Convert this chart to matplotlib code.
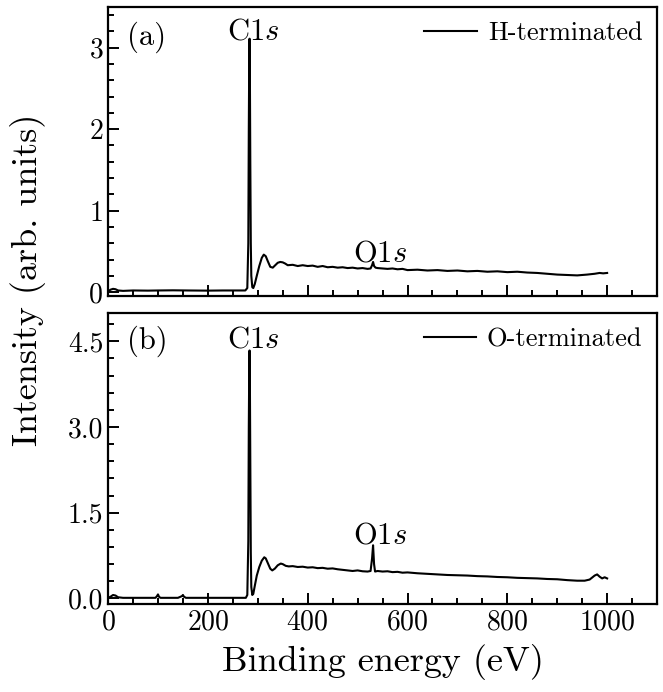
import numpy as np
import matplotlib
matplotlib.use("Agg")
import matplotlib.pyplot as plt
from matplotlib.ticker import MultipleLocator

plt.rcParams['font.family'] = 'serif'
plt.rcParams['font.serif'] = ['cmr10']
plt.rcParams['mathtext.fontset'] = 'cm'
plt.rcParams['axes.formatter.use_mathtext'] = True

# H-terminated survey spectrum
energy_h = [0, 5, 10, 15, 20, 30, 50, 80, 100, 130, 160, 200, 230, 260, 275,
            279, 281, 282, 283, 283.5, 284, 285, 286, 287, 289, 291, 294, 298,
            303, 308, 312, 316, 320, 325, 330, 335, 340, 345, 350, 355, 360,
            370, 380, 390, 400, 410, 420, 430, 440, 450, 460, 470, 480, 490,
            500, 510, 520, 526, 529, 531, 533, 536, 540, 550, 560, 570, 580,
            590, 600, 620, 640, 660, 680, 700, 720, 740, 760, 780, 800, 820,
            840, 860, 880, 900, 920, 940, 960, 975, 985, 992, 1000]
intens_h = [0.01, 0.03, 0.04, 0.035, 0.02, 0.015, 0.02, 0.018, 0.02, 0.022,
            0.02, 0.018, 0.02, 0.02, 0.02,
            0.05, 0.6, 2.0, 3.0, 3.11, 2.9, 1.6, 0.6, 0.2, 0.06, 0.05, 0.1, 0.2,
            0.32, 0.42, 0.46, 0.44, 0.38, 0.31, 0.30, 0.33, 0.36, 0.37, 0.365,
            0.35, 0.33,
            0.335, 0.32, 0.33, 0.32, 0.325, 0.31, 0.32, 0.305, 0.31, 0.30,
            0.305, 0.295, 0.30,
            0.29, 0.295, 0.285, 0.29, 0.33, 0.37, 0.32, 0.30, 0.295, 0.29,
            0.285, 0.29, 0.28,
            0.285, 0.27, 0.275, 0.265, 0.27, 0.26, 0.265, 0.255, 0.26, 0.25,
            0.255, 0.245, 0.25,
            0.24, 0.235, 0.225, 0.215, 0.21, 0.205, 0.215, 0.225, 0.235, 0.23,
            0.235]

# O-terminated survey spectrum
energy_o = [0, 5, 10, 15, 20, 30, 50, 80, 95, 98, 100, 102, 105, 140, 148, 150,
            152, 156, 200, 250, 276, 279, 281, 282, 283, 283.5, 284, 285, 286,
            287, 289, 291, 294, 298, 303, 308, 313, 316, 320, 325, 329, 334,
            340, 346, 350, 356, 362, 370, 380, 390, 400, 410, 420, 430, 440,
            450, 460, 470, 480, 490, 500, 510, 520, 526, 529, 531, 533, 535,
            540, 550, 560, 570, 580, 590, 600, 620, 640, 660, 680, 700, 720,
            740, 760, 780, 800, 820, 840, 860, 880, 900, 920, 940, 955, 965,
            975, 980, 985, 990, 995, 1000]
intens_o = [0.01, 0.03, 0.06, 0.05, 0.02, 0.01, 0.01, 0.01, 0.01, 0.04, 0.07,
            0.03, 0.01, 0.01, 0.04, 0.06,
            0.03, 0.01, 0.01, 0.01, 0.01, 0.06, 1.0, 3.0, 4.2, 4.34, 4.1, 2.4,
            0.8,
            0.2, 0.06, 0.08, 0.22, 0.4, 0.55, 0.66, 0.72, 0.70, 0.62, 0.52,
            0.49, 0.52,
            0.58, 0.61, 0.60, 0.57, 0.56, 0.565, 0.55, 0.555, 0.54, 0.545,
            0.53, 0.535, 0.52,
            0.525, 0.51, 0.50, 0.49, 0.48, 0.49, 0.475, 0.47, 0.48, 0.7, 0.93,
            0.6, 0.47,
            0.48, 0.47, 0.475, 0.46, 0.465, 0.45, 0.455, 0.44, 0.43, 0.42, 0.41,
            0.405, 0.40,
            0.39, 0.385, 0.375, 0.37, 0.36, 0.355, 0.35, 0.34, 0.335, 0.32,
            0.31, 0.31, 0.33,
            0.40, 0.42, 0.38, 0.35, 0.37, 0.35]

fig = plt.figure(figsize=(6.63, 6.92), dpi=100)
ax1 = fig.add_axes([0.163, 0.572, 0.828, 0.418])
ax2 = fig.add_axes([0.163, 0.127, 0.828, 0.421], sharex=ax1)

ax1.plot(energy_h, intens_h, color='black', lw=1.5, label='H-terminated')
ax2.plot(energy_o, intens_o, color='black', lw=1.5, label='O-terminated')

ax1.set_xlim(0, 1100)
ax1.set_ylim(-0.05, 3.5)
ax2.set_ylim(-0.1, 5.0)

ax1.yaxis.set_major_locator(MultipleLocator(1))
ax1.yaxis.set_minor_locator(MultipleLocator(0.2))
ax2.yaxis.set_major_locator(MultipleLocator(1.5))
ax2.yaxis.set_minor_locator(MultipleLocator(0.3))
ax2.xaxis.set_major_locator(MultipleLocator(200))
ax2.xaxis.set_minor_locator(MultipleLocator(50))
ax2.yaxis.set_major_formatter(matplotlib.ticker.FormatStrFormatter('%.1f'))

for ax in (ax1, ax2):
    for s in ax.spines.values():
        s.set_linewidth(1.6)
    ax.tick_params(which='both', direction='in', top=False, right=False,
                   width=1.4, labelsize=20)
    ax.tick_params(which='major', length=8)
    ax.tick_params(which='minor', length=4)
    ax.legend(loc='upper right', frameon=False, fontsize=19,
              handlelength=2.0, borderaxespad=0.15, handletextpad=0.4)
plt.setp(ax1.get_xticklabels(), visible=False)

ax1.text(37, 3.04, '(a)', fontsize=22, va='baseline')
ax1.text(290, 3.1, 'C1$s$', fontsize=22, ha='center', va='baseline')
ax1.text(545, 0.37, 'O1$s$', fontsize=22, ha='center', va='baseline')
ax2.text(37, 4.37, '(b)', fontsize=22, va='baseline')
ax2.text(290, 4.4, 'C1$s$', fontsize=22, ha='center', va='baseline')
ax2.text(545, 0.96, 'O1$s$', fontsize=22, ha='center', va='baseline')

ax2.set_xlabel('Binding energy (eV)', fontsize=26, labelpad=6)
fig.text(0.042, 0.595, 'Intensity (arb. units)', fontsize=26, rotation=90,
         ha='center', va='center')

fig.savefig('out.png', dpi=100)
